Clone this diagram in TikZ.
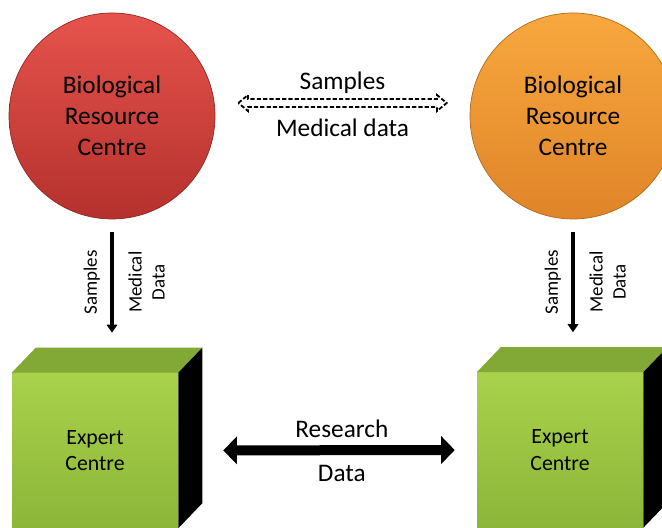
\documentclass[tikz,border=0pt]{standalone}
\usepackage{fontspec}
\setmainfont{Carlito}
\usetikzlibrary{arrows.meta}
\definecolor{redtop}{HTML}{E6534C}
\definecolor{redbot}{HTML}{B5312D}
\definecolor{orangetop}{HTML}{F8A83F}
\definecolor{orangebot}{HTML}{DF8428}
\definecolor{greentop}{HTML}{A9D14B}
\definecolor{greenbot}{HTML}{8BB639}
\definecolor{greenlid}{HTML}{82A935}
\tikzset{
  centre/.style={circle, minimum size=5.15cm, inner sep=0pt, align=center, font=\fontsize{18}{22}\selectfont},
  redcentre/.style={centre, top color=redtop, bottom color=redbot, draw=redbot!80!black, line width=0.5pt},
  orangecentre/.style={centre, top color=orangetop, bottom color=orangebot, draw=orangebot!80!black, line width=0.5pt},
  cubefront/.style={rectangle, minimum width=4.15cm, minimum height=3.875cm, inner sep=0pt, align=center,
    top color=greentop, bottom color=greenbot, font=\fontsize{15.5}{19}\selectfont},
  cubelid/.style={fill=greenlid},
  cubeside/.style={fill=black},
  feed/.style={line width=0.09cm, -{Triangle[width=0.26cm, length=0.2cm]}},
  feedlabel/.style={rotate=90, align=center, font=\fontsize{13.5}{16.4}\selectfont},
  exchange/.style={line width=0.25cm, {Triangle[width=0.68cm, length=0.34cm]}-{Triangle[width=0.68cm, length=0.34cm]}},
  hollowarrow/.style={draw=black, fill=white, line width=1.3pt, dash pattern=on 3pt off 1.5pt, line join=miter},
  arrowlabel/.style={font=\fontsize{18}{22}\selectfont},
}
\begin{document}
\begin{tikzpicture}
\useasboundingbox (0,0) rectangle (16.550,13.200);
\clip (0,0) rectangle (16.550,13.200);
\node[redcentre] (brcL) at (2.800,10.300) {Biological\\Resource\\Centre};
\node[orangecentre] (brcR) at (14.325,10.300) {Biological\\Resource\\Centre};
% cubes
\node[cubefront] (ecL) at (2.375,1.938) {Expert\\Centre};
\node[cubefront] (ecR) at (14.000,1.950) {Expert\\Centre};
\foreach \ec in {ecL,ecR} {
  \fill[cubelid] (\ec.north west) -- ++(0.6,0.625) -- ([shift={(0.6,0.625)}]\ec.north east) -- (\ec.north east) -- cycle;
  \fill[cubeside] (\ec.north east) -- ++(0.6,0.625) -- ([shift={(0.6,0.625)}]\ec.south east) -- (\ec.south east) -- cycle;
}
% sample and data flows
\draw[feed, shorten <=0.325cm, shorten >=1.0cm] (brcL.south) -- (brcL.south |- ecL.north)
  node[feedlabel, pos=0.41, above=4pt] {Samples}
  node[feedlabel, pos=0.41, below=7pt] {Medical\\Data};
\draw[feed, shorten <=0.325cm, shorten >=1.0cm] (brcR.south) -- (brcR.south |- ecR.north)
  node[feedlabel, pos=0.41, above=4pt] {Samples}
  node[feedlabel, pos=0.41, below=7pt] {Medical\\Data};
\draw[exchange, shorten <=1.125cm, shorten >=0.55cm] (ecL.east) -- (ecR.west)
  node[arrowlabel, pos=0.548, above=2pt] {Research}
  node[arrowlabel, pos=0.548, below=4pt] {Data};
\coordinate (sdL) at ([shift={(0.575,0.325)}]brcL.east);
\coordinate (sdR) at ([shift={(-0.575,0.325)}]brcR.west);
\draw[hollowarrow] (sdL) -- ++(0.24,0.2) -- ++(0,-0.1) -- ([shift={(-0.24,0.1)}]sdR) -- ++(0,0.1)
  -- (sdR) -- ++(-0.24,-0.2) -- ++(0,0.1) -- ([shift={(0.24,-0.1)}]sdL) -- ++(0,-0.1) -- cycle;
\path (sdL) -- (sdR)
  node[arrowlabel, midway, above=3pt] {Samples}
  node[arrowlabel, midway, below=8pt] {Medical data};
\end{tikzpicture}
\end{document}
